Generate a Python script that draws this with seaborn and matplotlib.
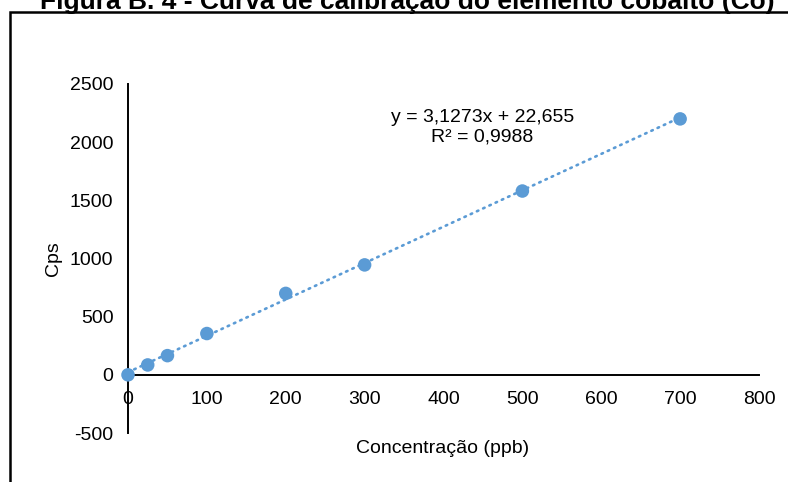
import numpy as np
import pandas as pd
import matplotlib
matplotlib.use("Agg")
import matplotlib.pyplot as plt
from matplotlib.patches import Rectangle
import seaborn as sns

# Calibration standards for cobalt
concentracao = [0, 25, 50, 100, 200, 300, 500, 700]
cps = [0, 85, 165, 355, 700, 945, 1580, 2200]

# Linear trendline coefficients and fit quality
slope = 3.1273
intercept = 22.655
r2 = 0.9988

x_ticks = [0, 100, 200, 300, 400, 500, 600, 700, 800]
y_ticks = [-500, 0, 500, 1000, 1500, 2000, 2500]

title = "Figura B. 4 - Curva de calibração do elemento cobalto (Co)"

sns.set_theme(style="white")
plt.rcParams["font.family"] = ["Liberation Sans", "DejaVu Sans"]

blue = "#5B9BD5"
fs = 14

fig = plt.figure(figsize=(7.88, 4.82), dpi=100)
ax = fig.add_axes([128 / 788, (482 - 433) / 482, (759 - 128) / 788, (433 - 84) / 482])

df = pd.DataFrame({"x": concentracao, "y": cps})

trend_x = np.array([min(concentracao), max(concentracao)], dtype=float)
trend = pd.DataFrame({"x": trend_x, "y": slope * trend_x + intercept})
sns.lineplot(data=trend, x="x", y="y", ax=ax, color=blue, linewidth=1.9,
             dashes=False, zorder=2)
line = ax.lines[-1]
line.set_linestyle((0, (0.6, 2.0)))
line.set_dash_capstyle("round")

sns.scatterplot(data=df, x="x", y="y", ax=ax, color=blue, s=95,
                edgecolor="none", zorder=3, clip_on=False)

ax.set_xlim(0, 800)
ax.set_ylim(-500, 2500)
ax.set_xticks(x_ticks)
ax.set_yticks(y_ticks)
ax.set_xticklabels([str(v) for v in x_ticks], fontsize=fs)
ax.set_yticklabels([str(v) for v in y_ticks], fontsize=fs)

for side in ("top", "right"):
    ax.spines[side].set_visible(False)
ax.spines["bottom"].set_position(("data", 0))
for side in ("left", "bottom"):
    ax.spines[side].set_color("black")
    ax.spines[side].set_linewidth(1.4)
ax.tick_params(axis="both", direction="out", length=5, width=1.4,
               colors="black", labelsize=fs)
ax.tick_params(axis="y", pad=5.5)
ax.tick_params(axis="x", pad=7)
ax.patch.set_alpha(0)

ax.set_xlabel("Concentração (ppb)", fontsize=fs, color="black")
ax.set_ylabel("Cps", fontsize=fs, color="black")
ax.xaxis.set_label_coords(0.498, -0.02)
ax.yaxis.set_label_coords(-0.104, 0.5)

ax.text(449, 2213, f"y = {slope:.4f}x + {intercept:.3f}".replace(".", ","),
        ha="center", va="center", fontsize=fs, color="black")
ax.text(449, 2041, f"R² = {r2:.4f}".replace(".", ","),
        ha="center", va="center", fontsize=fs, color="black")

# Outer frame and heading
fig.add_artist(Rectangle((10 / 788, -0.5), 2.0, 0.5 + 1 - 12 / 482,
                         transform=fig.transFigure, fill=False,
                         edgecolor="black", linewidth=1.8, clip_on=False))
fig.text(40 / 788, 1 - 8.5 / 482, title, ha="left", va="baseline",
         fontsize=19, fontweight="bold", color="black")

fig.savefig("out.png", dpi=100, facecolor="white")
